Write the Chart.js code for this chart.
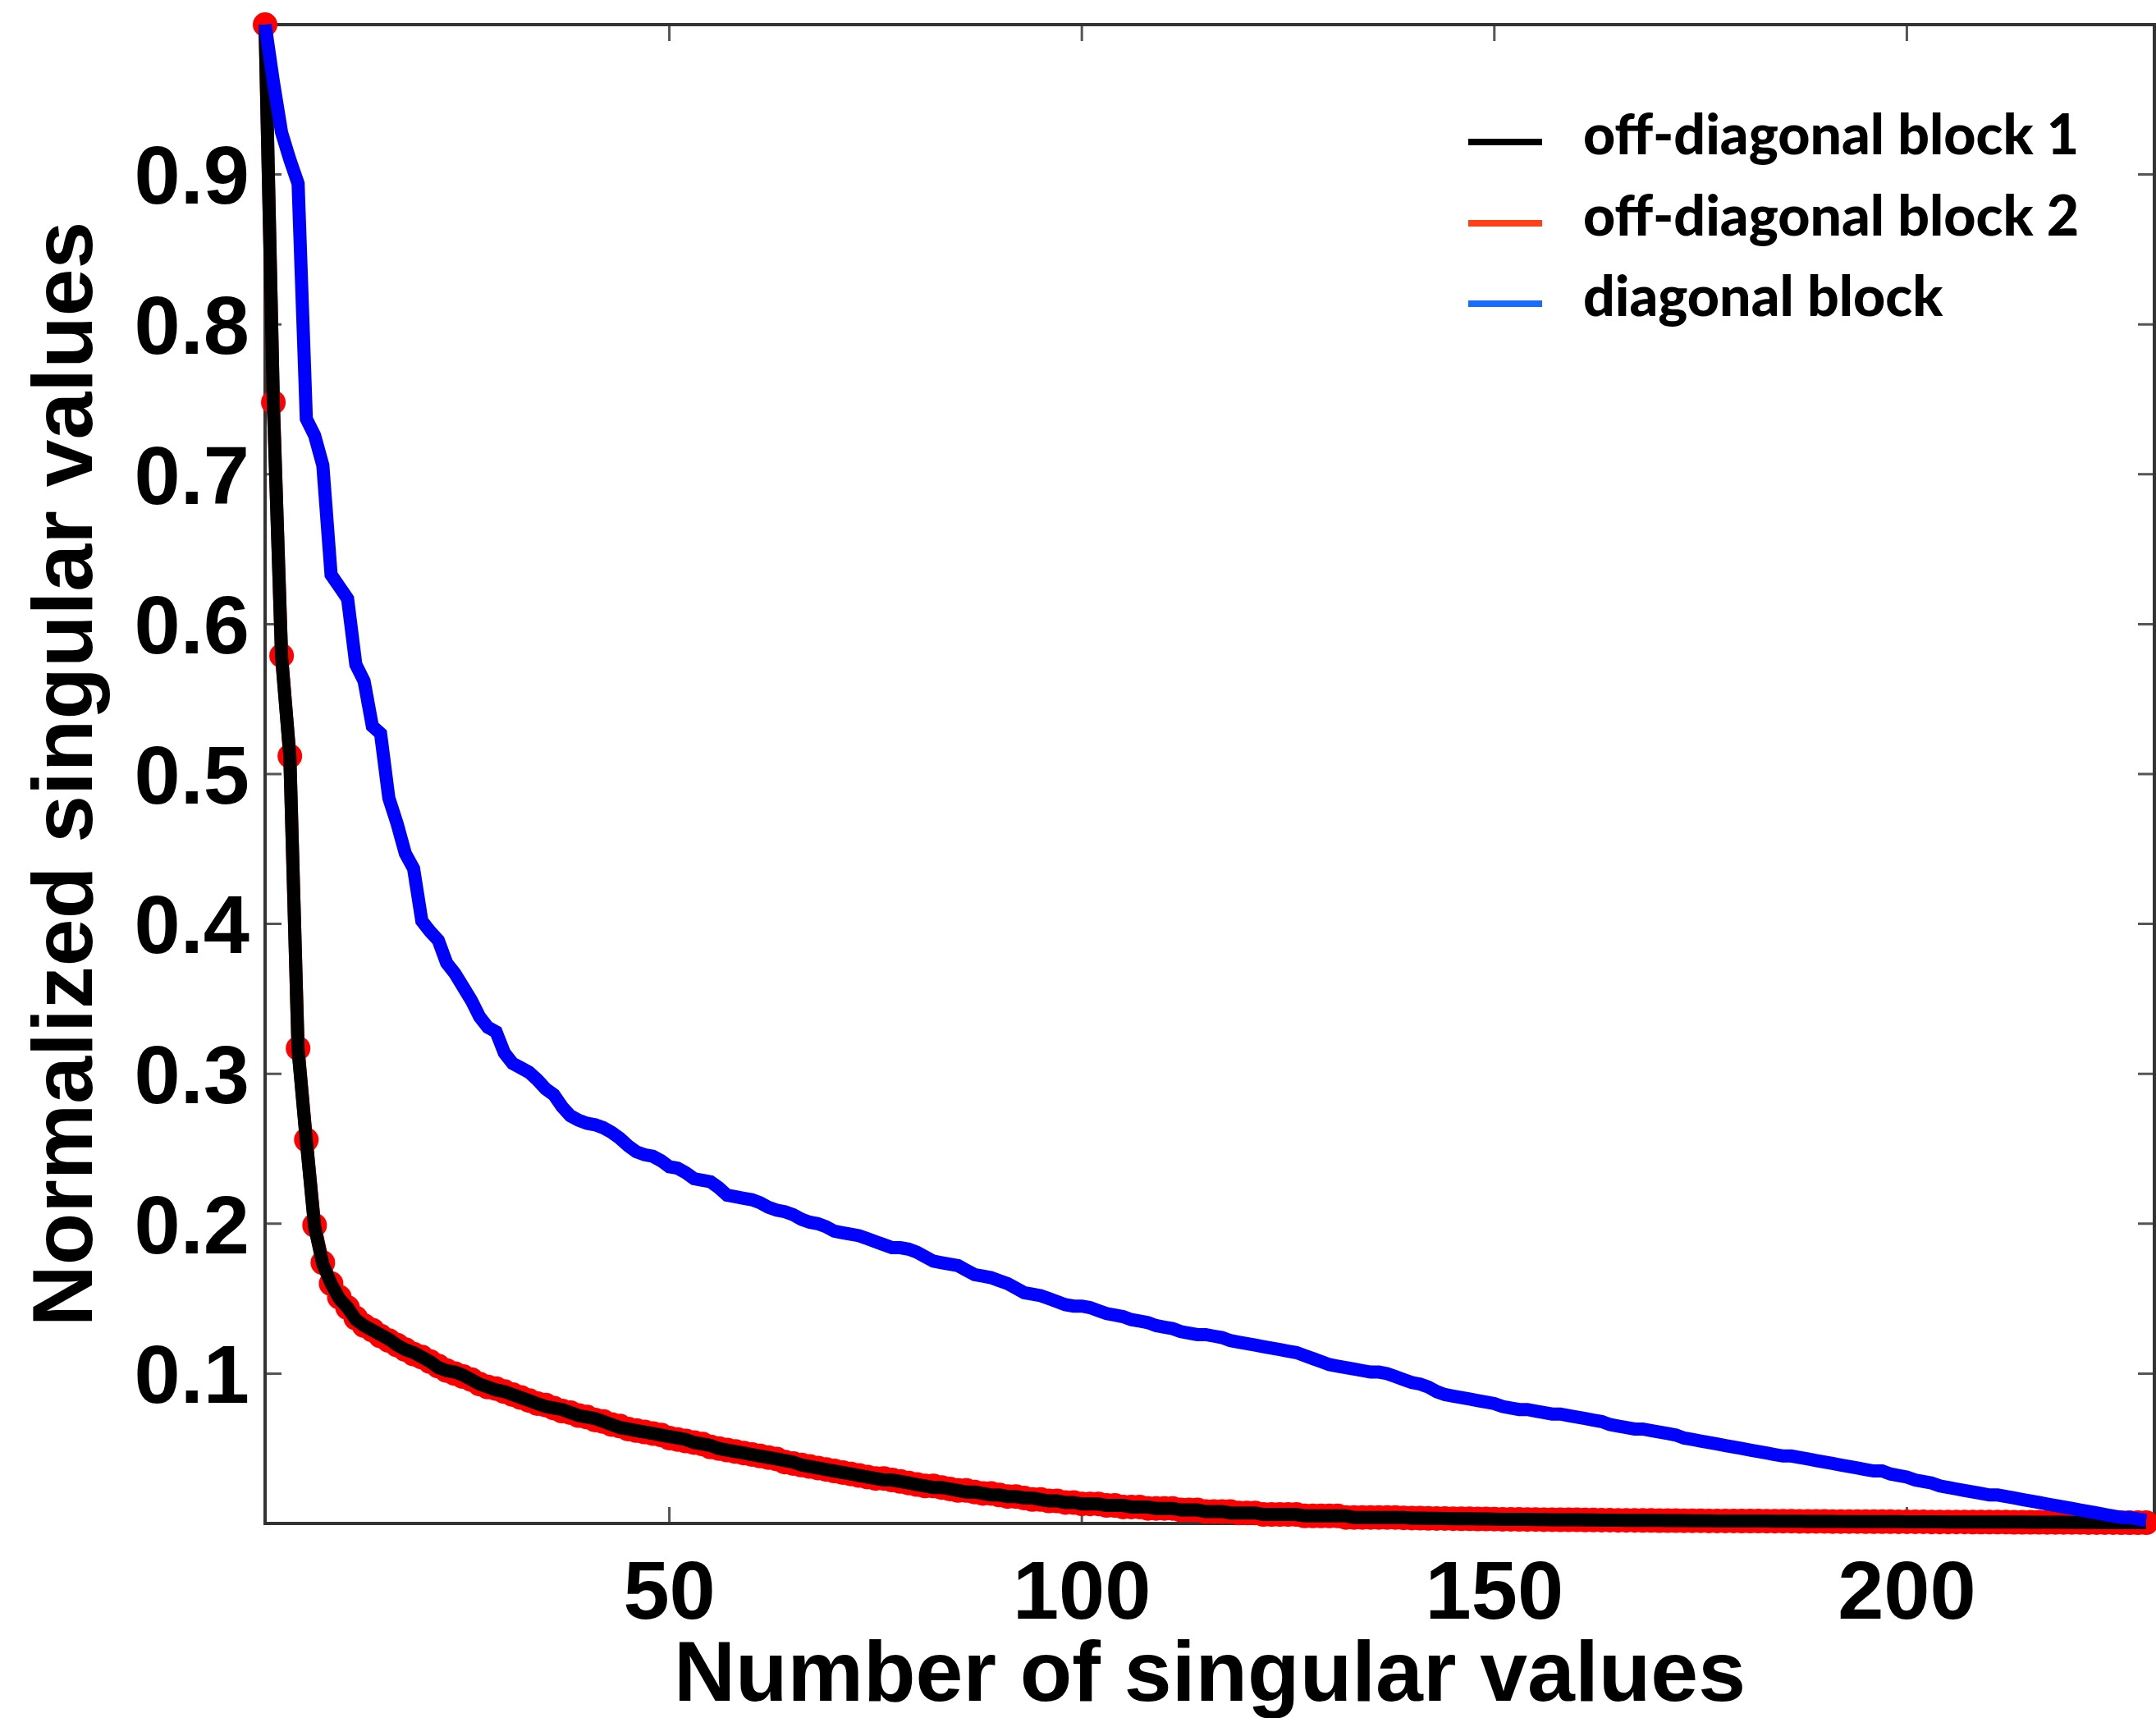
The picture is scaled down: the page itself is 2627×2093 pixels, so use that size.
<!DOCTYPE html>
<html>
<head>
<meta charset="utf-8">
<title>Normalized singular values</title>
<script src="https://cdn.jsdelivr.net/npm/chart.js@4.4.1/dist/chart.umd.min.js"></script>
<style>
  html, body { margin: 0; padding: 0; background: #fff; overflow: hidden; }
  canvas { display: block; }
</style>
</head>
<body>
<canvas id="svChart" width="2640" height="2093"></canvas>
<script>
// series names, in legend order
const blockLabels = ['off-diagonal block 1', 'off-diagonal block 2', 'diagonal block'];
const lineColors = ['#000000', '#ff0000', '#0000ff'];
const legendColors = ['#000000', '#ff4019', '#1a6bff'];

const xTickValues = [50, 100, 150, 200];
const yTickValues = [0.1, 0.2, 0.3, 0.4, 0.5, 0.6, 0.7, 0.8, 0.9];

// normalized singular values, index 1..229
const offDiag1 = [
  1.000, 0.747, 0.578, 0.512, 0.316, 0.255, 0.198, 0.173, 0.160, 0.150,
  0.144, 0.136, 0.132, 0.129, 0.126, 0.123, 0.119, 0.116, 0.114, 0.111,
  0.108, 0.104, 0.102, 0.101, 0.099, 0.096, 0.093, 0.091, 0.089, 0.088,
  0.086, 0.084, 0.082, 0.080, 0.078, 0.077, 0.076, 0.074, 0.072, 0.071,
  0.070, 0.068, 0.066, 0.064, 0.063, 0.062, 0.061, 0.060, 0.059, 0.058,
  0.057, 0.056, 0.054, 0.053, 0.052, 0.050, 0.049, 0.048, 0.047, 0.046,
  0.045, 0.044, 0.043, 0.042, 0.041, 0.039, 0.038, 0.037, 0.036, 0.035,
  0.034, 0.033, 0.032, 0.031, 0.030, 0.029, 0.029, 0.028, 0.027, 0.026,
  0.025, 0.024, 0.024, 0.023, 0.022, 0.021, 0.021, 0.020, 0.019, 0.019,
  0.018, 0.018, 0.017, 0.017, 0.016, 0.015, 0.015, 0.014, 0.014, 0.013,
  0.013, 0.013, 0.012, 0.012, 0.012, 0.011, 0.011, 0.011, 0.010, 0.010,
  0.010, 0.009, 0.009, 0.009, 0.008, 0.008, 0.008, 0.007, 0.007, 0.007,
  0.007, 0.006, 0.006, 0.006, 0.006, 0.006, 0.005, 0.005, 0.005, 0.005,
  0.005, 0.005, 0.004, 0.004, 0.004, 0.004, 0.004, 0.004, 0.004, 0.0036,
  0.0035, 0.0034, 0.0034, 0.0033, 0.0032, 0.0032, 0.0031, 0.0030, 0.0030, 0.0029,
  0.0028, 0.0028, 0.0027, 0.0027, 0.0026, 0.0026, 0.0025, 0.0025, 0.0024, 0.0024,
  0.0023, 0.0023, 0.0022, 0.0022, 0.0022, 0.0021, 0.0021, 0.0020, 0.0020, 0.0020,
  0.0019, 0.0019, 0.0019, 0.0018, 0.0018, 0.0018, 0.0017, 0.0017, 0.0017, 0.0016,
  0.0016, 0.0016, 0.0016, 0.0015, 0.0015, 0.0015, 0.0015, 0.0014, 0.0014, 0.0014,
  0.0014, 0.0013, 0.0013, 0.0013, 0.0013, 0.0012, 0.0012, 0.0012, 0.0012, 0.0011,
  0.0011, 0.0011, 0.0011, 0.0011, 0.0010, 0.0010, 0.0010, 0.0010, 0.0010, 0.0009,
  0.0009, 0.0009, 0.0009, 0.0009, 0.0008, 0.0008, 0.0008, 0.0008, 0.0008, 0.0007,
  0.0007, 0.0007, 0.0007, 0.0006, 0.0006, 0.0006, 0.0006, 0.0005, 0.0005
];

const offDiag2 = [
  1.000, 0.748, 0.579, 0.512, 0.317, 0.256, 0.199, 0.174, 0.160, 0.151,
  0.144, 0.137, 0.132, 0.129, 0.125, 0.122, 0.119, 0.116, 0.113, 0.111,
  0.108, 0.105, 0.102, 0.100, 0.098, 0.096, 0.093, 0.091, 0.090, 0.088,
  0.086, 0.084, 0.082, 0.080, 0.079, 0.077, 0.075, 0.074, 0.072, 0.071,
  0.069, 0.068, 0.066, 0.065, 0.063, 0.062, 0.061, 0.060, 0.059, 0.057,
  0.056, 0.055, 0.054, 0.053, 0.051, 0.050, 0.049, 0.048, 0.047, 0.046,
  0.045, 0.044, 0.043, 0.041, 0.040, 0.039, 0.038, 0.037, 0.036, 0.035,
  0.034, 0.033, 0.032, 0.031, 0.030, 0.030, 0.029, 0.028, 0.027, 0.026,
  0.025, 0.025, 0.024, 0.023, 0.022, 0.022, 0.021, 0.020, 0.020, 0.019,
  0.018, 0.018, 0.017, 0.016, 0.016, 0.015, 0.015, 0.014, 0.014, 0.013,
  0.013, 0.013, 0.012, 0.012, 0.011, 0.011, 0.011, 0.010, 0.010, 0.010,
  0.010, 0.009, 0.009, 0.009, 0.008, 0.008, 0.008, 0.008, 0.007, 0.007,
  0.007, 0.006, 0.006, 0.006, 0.006, 0.006, 0.005, 0.005, 0.005, 0.005,
  0.005, 0.004, 0.004, 0.004, 0.004, 0.004, 0.004, 0.004, 0.0037, 0.0036,
  0.0035, 0.0034, 0.0033, 0.0033, 0.0032, 0.0031, 0.0031, 0.0030, 0.0030, 0.0029,
  0.0028, 0.0028, 0.0027, 0.0026, 0.0026, 0.0025, 0.0025, 0.0024, 0.0024, 0.0024,
  0.0023, 0.0023, 0.0022, 0.0022, 0.0021, 0.0021, 0.0021, 0.0020, 0.0020, 0.0019,
  0.0019, 0.0019, 0.0018, 0.0018, 0.0018, 0.0017, 0.0017, 0.0017, 0.0017, 0.0016,
  0.0016, 0.0016, 0.0015, 0.0015, 0.0015, 0.0015, 0.0014, 0.0014, 0.0014, 0.0014,
  0.0013, 0.0013, 0.0013, 0.0013, 0.0012, 0.0012, 0.0012, 0.0012, 0.0011, 0.0011,
  0.0011, 0.0011, 0.0010, 0.0010, 0.0010, 0.0010, 0.0010, 0.0009, 0.0009, 0.0009,
  0.0009, 0.0009, 0.0008, 0.0008, 0.0008, 0.0008, 0.0007, 0.0007, 0.0007, 0.0007,
  0.0007, 0.0006, 0.0006, 0.0006, 0.0006, 0.0005, 0.0005, 0.0005, 0.0005
];

const diagBlock = [
  1.000, 0.962, 0.928, 0.910, 0.894, 0.737, 0.726, 0.706, 0.633, 0.625,
  0.617, 0.573, 0.562, 0.532, 0.527, 0.484, 0.467, 0.447, 0.437, 0.402,
  0.395, 0.389, 0.374, 0.367, 0.358, 0.349, 0.338, 0.331, 0.328, 0.314,
  0.307, 0.304, 0.301, 0.296, 0.290, 0.286, 0.278, 0.272, 0.269, 0.267,
  0.266, 0.264, 0.261, 0.257, 0.252, 0.248, 0.246, 0.245, 0.242, 0.238,
  0.237, 0.234, 0.230, 0.229, 0.228, 0.224, 0.219, 0.218, 0.217, 0.216,
  0.214, 0.211, 0.209, 0.208, 0.206, 0.203, 0.201, 0.200, 0.198, 0.195,
  0.194, 0.193, 0.192, 0.190, 0.188, 0.186, 0.184, 0.184, 0.183, 0.181,
  0.178, 0.175, 0.174, 0.173, 0.172, 0.169, 0.166, 0.165, 0.164, 0.162,
  0.160, 0.157, 0.154, 0.153, 0.152, 0.150, 0.148, 0.146, 0.145, 0.145,
  0.144, 0.142, 0.140, 0.139, 0.138, 0.136, 0.135, 0.134, 0.132, 0.131,
  0.130, 0.128, 0.127, 0.126, 0.126, 0.125, 0.124, 0.122, 0.121, 0.120,
  0.119, 0.118, 0.117, 0.116, 0.115, 0.114, 0.112, 0.110, 0.108, 0.106,
  0.105, 0.104, 0.103, 0.102, 0.101, 0.101, 0.100, 0.098, 0.096, 0.094,
  0.093, 0.091, 0.088, 0.086, 0.085, 0.084, 0.083, 0.082, 0.081, 0.080,
  0.078, 0.077, 0.076, 0.076, 0.075, 0.074, 0.073, 0.073, 0.072, 0.071,
  0.070, 0.069, 0.068, 0.066, 0.065, 0.064, 0.063, 0.063, 0.062, 0.061,
  0.060, 0.059, 0.057, 0.056, 0.055, 0.054, 0.053, 0.052, 0.051, 0.050,
  0.049, 0.048, 0.047, 0.046, 0.045, 0.045, 0.044, 0.043, 0.042, 0.041,
  0.040, 0.039, 0.038, 0.037, 0.036, 0.035, 0.035, 0.033, 0.032, 0.031,
  0.029, 0.028, 0.027, 0.025, 0.024, 0.023, 0.022, 0.021, 0.020, 0.019,
  0.019, 0.018, 0.017, 0.016, 0.015, 0.014, 0.013, 0.012, 0.011, 0.010,
  0.009, 0.008, 0.007, 0.006, 0.005, 0.004, 0.004, 0.003, 0.002
];

// singular value rank (1-based)
const rankIndex = Array.from({ length: diagBlock.length }, (_, k) => k + 1);

function toPoints(values) {
  return values.map((v, k) => ({ x: rankIndex[k], y: v }));
}

const axisFont = { family: '"Liberation Sans", Arial, sans-serif', size: 101, weight: 'bold', lineHeight: 1.2 };
const titleFont = { family: '"Liberation Sans", Arial, sans-serif', size: 104, weight: 'bold', lineHeight: 0.95 };

// box around the plot with inward tick marks on all four sides
const frameTicks = {
  id: 'frameTicks',
  beforeDatasetsDraw(chart) {
    const { ctx, chartArea: a, scales } = chart;
    const tickLen = 20;
    ctx.save();
    ctx.strokeStyle = '#555';
    ctx.lineWidth = 3;
    ctx.beginPath();
    scales.x.ticks.forEach(t => {
      const px = scales.x.getPixelForValue(t.value);
      ctx.moveTo(px, a.bottom); ctx.lineTo(px, a.bottom - tickLen);
      ctx.moveTo(px, a.top); ctx.lineTo(px, a.top + tickLen);
    });
    scales.y.ticks.forEach(t => {
      const py = scales.y.getPixelForValue(t.value);
      ctx.moveTo(a.left, py); ctx.lineTo(a.left + tickLen, py);
      ctx.moveTo(a.right, py); ctx.lineTo(a.right - tickLen, py);
    });
    ctx.stroke();
    ctx.strokeStyle = '#333';
    ctx.lineWidth = 4;
    ctx.strokeRect(a.left, a.top, a.right - a.left, a.bottom - a.top);
    ctx.restore();
  }
};

// legend box in the upper right of the plot
const blockLegend = {
  id: 'blockLegend',
  afterDraw(chart) {
    const { ctx, chartArea: a } = chart;
    const lineX0 = a.left + 1466, lineX1 = a.left + 1556;
    const textX = a.left + 1606;
    const rowY = [a.top + 143, a.top + 242, a.top + 340];
    ctx.save();
    ctx.font = '900 68px Lato, "Open Sans", sans-serif';
    ctx.textBaseline = 'alphabetic';
    ctx.textAlign = 'left';
    blockLabels.forEach((label, k) => {
      ctx.strokeStyle = legendColors[k];
      ctx.lineWidth = 8;
      ctx.beginPath();
      ctx.moveTo(lineX0, rowY[k]);
      ctx.lineTo(lineX1, rowY[k]);
      ctx.stroke();
      ctx.fillStyle = '#000';
      ctx.fillText(label, textX, rowY[k] + 15);
    });
    ctx.restore();
  }
};

new Chart(document.getElementById('svChart'), {
  type: 'line',
  data: {
    datasets: [
      {
        label: blockLabels[0],
        data: toPoints(offDiag1),
        borderColor: lineColors[0],
        borderWidth: 16,
        pointRadius: 0,
        order: 2,
        clip: false
      },
      {
        label: blockLabels[1],
        data: toPoints(offDiag2),
        borderColor: lineColors[1],
        backgroundColor: lineColors[1],
        borderWidth: 16,
        pointRadius: 15,
        pointBorderWidth: 0,
        pointBackgroundColor: lineColors[1],
        order: 3,
        clip: false
      },
      {
        label: blockLabels[2],
        data: toPoints(diagBlock),
        borderColor: lineColors[2],
        borderWidth: 16,
        pointRadius: 0,
        order: 1,
        clip: false
      }
    ]
  },
  options: {
    responsive: false,
    animation: false,
    devicePixelRatio: 1,
    layout: { padding: { top: 30, right: 6, bottom: 0, left: 0 } },
    plugins: {
      legend: { display: false },
      tooltip: { enabled: false }
    },
    scales: {
      x: {
        type: 'linear',
        min: 1,
        max: 230,
        afterBuildTicks: scale => { scale.ticks = xTickValues.map(v => ({ value: v })); },
        afterFit: scale => {
          scale.height = 237;
          scale.paddingLeft = 0;
          scale.paddingRight = 0;
        },
        grid: { display: false },
        border: { display: false },
        ticks: { font: axisFont, color: '#000', padding: 20, maxRotation: 0, autoSkip: false },
        title: {
          display: true,
          text: 'Number of singular values',
          font: titleFont,
          color: '#000',
          padding: { top: 0, bottom: 0 }
        }
      },
      y: {
        type: 'linear',
        min: 0,
        max: 1,
        afterBuildTicks: scale => { scale.ticks = yTickValues.map(v => ({ value: v })); },
        afterFit: scale => {
          scale.width = 323;
          scale.paddingTop = 0;
          scale.paddingBottom = 0;
        },
        grid: { display: false },
        border: { display: false },
        ticks: {
          font: axisFont,
          color: '#000',
          padding: 11,
          labelOffset: 8,
          autoSkip: false,
          callback: v => v.toFixed(1)
        },
        title: {
          display: true,
          text: 'Normalized singular values',
          font: titleFont,
          color: '#000',
          padding: { top: 34, bottom: 0 }
        }
      }
    }
  },
  plugins: [frameTicks, blockLegend]
});
</script>
</body>
</html>
